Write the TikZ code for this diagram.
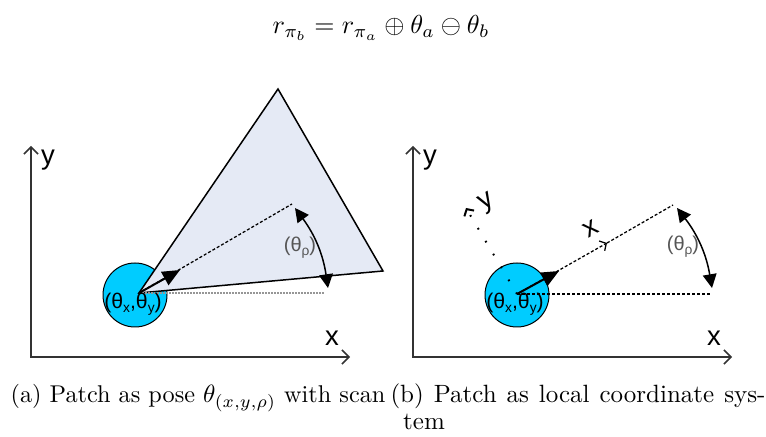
\documentclass[tikz,border=0pt]{standalone}
\usepackage{fontspec}
\newfontfamily\arial{Liberation Sans}
\usetikzlibrary{arrows.meta,positioning}
\definecolor{posefill}{RGB}{0,204,255}
\definecolor{scanfill}{RGB}{229,234,245}
\definecolor{labgray}{RGB}{85,85,85}
\definecolor{dotgray}{RGB}{150,150,150}
\newcommand{\sbs}[1]{\raisebox{-0.4ex}{\fontsize{5.5}{6}\selectfont #1}}
\newcommand{\axes}[2]{%
  \coordinate (o#1) at (#2,357);
  \coordinate (xe#1) at (#2+319,357);
  \coordinate (ye#1) at (#2,146);
  \draw[axis] (ye#1) -- (o#1) -- (xe#1);
  \node[axlabel] (ylab#1) at (#2+17,160) {y};
  \node[axlabel] (xlab#1) at (#2+301,338) {x};
}

\begin{document}
\begin{tikzpicture}[x=0.4pt,y=-0.4pt,
  axis/.style={draw=black!80,line width=0.6pt,
    {Straight Barb[length=2.8pt,width=5.6pt]}-{Straight Barb[length=2.8pt,width=5.6pt]}},
  axlabel/.style={font=\arial\fontsize{11}{12}\selectfont,inner sep=0pt},
  pose/.style={circle,draw,fill=posefill,minimum size=25.6pt,inner sep=0pt},
  poselab/.style={font=\arial\fontsize{8.5}{10}\selectfont,inner sep=0pt},
  ray/.style={dash pattern=on 1.2pt off 0.8pt,line width=0.5pt},
  heading/.style={line width=0.8pt,-{Triangle[length=7pt,width=6pt]}},
  angle/.style={line width=0.6pt,{Triangle[length=5.5pt,width=5.5pt]}-{Triangle[length=5.5pt,width=5.5pt]}},
  anglab/.style={text=labgray,font=\arial\fontsize{8}{9}\selectfont,inner sep=0pt}]
  \useasboundingbox (0,0) rectangle (766,437);
  \node[scale=1.04] (eq) at (381,28) {$r_{\pi_b} = r_{\pi_a} \oplus \theta_a \ominus \theta_b$};

  \axes{a}{31}
  \node[pose] (posea) at (135,295) {};
  \coordinate (sa) at (139,293);
  \coordinate (ta) at (278,89);
  \coordinate (ua) at (383,271);
  \filldraw[fill=scanfill,draw=black,line width=0.6pt] (sa) -- (ta) -- (ua) -- cycle;
  \coordinate (ra) at (292,204);
  \coordinate (ha) at (325,293);
  \coordinate (da) at (180,270);
  \draw[ray] (sa) -- (ra);
  \draw[dotgray,dash pattern=on 0.6pt off 0.6pt,line width=0.9pt] (sa) -- (ha);
  \draw[heading] (sa) -- (da);
  \coordinate (a1a) at (328,288);
  \coordinate (a2a) at (295,208);
  \draw[angle] (a1a) to[bend right=14] (a2a);
  \node[anglab] (rhoa) at (300,248) {(θ\sbs{ρ})};
  \node[poselab] (pla) at (133,304) {(θ\sbs{x},θ\sbs{y})};

  \axes{b}{413}
  \node[pose] (poseb) at (517,295) {};
  \coordinate (sb) at (517,294);
  \coordinate (rb) at (673,205);
  \coordinate (xb) at (607,243);
  \coordinate (yb) at (466,208);
  \coordinate (hb) at (710,294);
  \coordinate (db) at (559,271);
  \draw[ray,-{Straight Barb[length=2pt,width=4.5pt]}] (sb) -- (xb);
  \draw[ray] (xb) -- (rb);
  \draw[ray] (sb) -- (hb);
  \draw[dash pattern=on 0.7pt off 5.3pt,line width=0.8pt,-{Straight Barb[length=2pt,width=4.5pt]}] (sb) -- (yb);
  \draw[heading] (sb) -- (db);
  \node[axlabel,rotate=30] (lxb) at (591,229) {x};
  \node[axlabel,rotate=30] (lyb) at (487,203) {y};
  \coordinate (a1b) at (712,288);
  \coordinate (a2b) at (677,208);
  \draw[angle] (a1b) to[bend right=14] (a2b);
  \node[anglab] (rhob) at (683,247) {(θ\sbs{ρ})};
  \node[poselab] (plb) at (515,304) {(θ\sbs{x},θ\sbs{y})};

  \node[anchor=base,font=\fontsize{9.7}{12}\selectfont] (capa) at (198,403) {(a) Patch as pose $\theta_{(x,y,\rho)}$ with scan};
  \node[anchor=base west,inner sep=0pt] (capb) at (390,403) {\makebox[150pt][s]{(b) Patch as local coordinate sys-}};
  \node[anchor=base,inner sep=0pt] (capc) at (424,430) {tem};
\end{tikzpicture}
\end{document}
